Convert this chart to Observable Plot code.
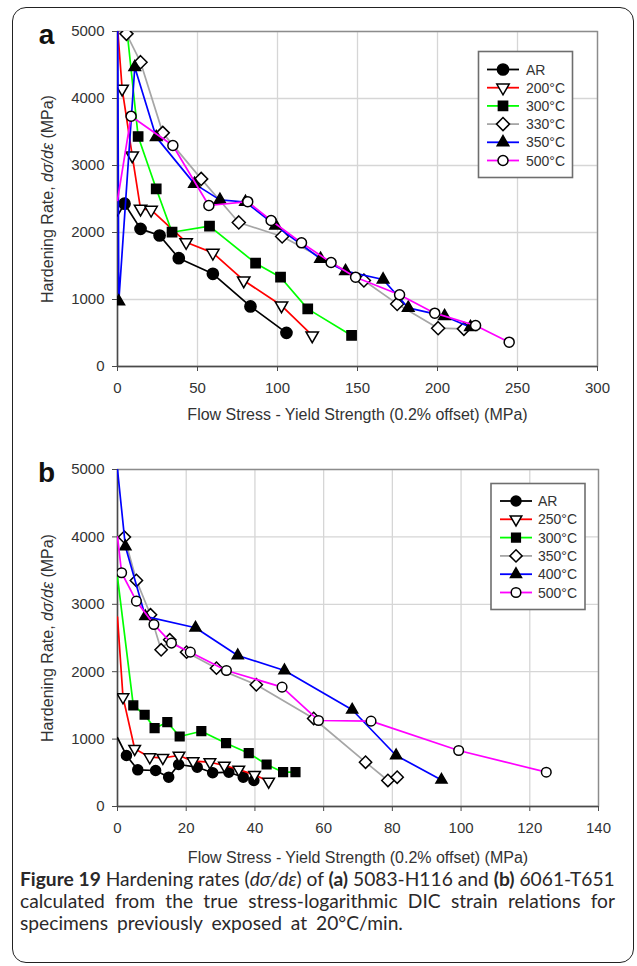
<!DOCTYPE html>
<html>
<head>
<meta charset="utf-8">
<script src="https://cdn.jsdelivr.net/npm/d3@7"></script>
<script src="https://cdn.jsdelivr.net/npm/@observablehq/plot@0.6"></script>
<style>
  html, body { margin: 0; padding: 0; background: #fff; }
  body { position: relative; width: 637px; height: 966px; overflow: hidden; font-family: "Liberation Sans", Arial, sans-serif; }
  .panel { position: absolute; left: 0; }
  #panelA { top: 0; }
  #panelB { top: 440px; }
  #overlay { position: absolute; left: 0; top: 0; pointer-events: none; }
  #box { position: absolute; left: 12px; top: 7px; width: 622px; height: 956px; border: 1.6px solid #222; border-radius: 14px; box-sizing: border-box; pointer-events: none; }
  #caption { position: absolute; left: 20px; top: 868px; width: 596px; font-family: Lato, "Noto Sans", sans-serif; font-size: 18px; line-height: 22px; color: #2b2829; }
  #caption div { white-space: nowrap; }
  #caption b { font-weight: bold; }
</style>
</head>
<body>
<div id="panelA" class="panel"></div>
<div id="panelB" class="panel"></div>
<svg id="overlay" width="637" height="966"></svg>
<div id="caption">
  <div id="cap1"><b>Figure 19</b> Hardening rates (<i>dσ/dε</i>) of <b>(a)</b> 5083-H116 and <b>(b)</b> 6061-T651</div>
  <div id="cap2">calculated from the true stress-logarithmic DIC strain relations for</div>
  <div id="cap3">specimens previously exposed at 20°C/min.</div>
</div>
<div id="box"></div>
<script>
// ---- Panel (a): 5083-H116, [flow stress - yield strength (MPa), hardening rate (MPa)]
const labelsA = ["AR", "200°C", "300°C", "330°C", "350°C", "500°C"];
const a_AR  = [[4.4,2430],[14.4,2054],[26.3,1955],[38.3,1617],[59.6,1383],[83.1,896],[105.6,502]];
const a_200 = [[2.9,4145],[9.2,3149],[14.4,2354],[21,2338],[42.9,1855],[59.6,1696],[78.9,1284],[102.5,910],[121.7,463]];
const a_300 = [[12.9,3433],[24.2,2652],[34.1,2004],[57.5,2094],[86.3,1542],[101.9,1333],[118.9,860],[146.3,463]];
const a_330 = [[5.6,4965],[14.4,4542],[28.3,3487],[52.3,2800],[75.8,2150],[102.9,1940],[154,1284],[174.8,934],[200.4,572],[216.5,562]];
const a_350 = [[0.8,970],[10.8,4467],[24.2,3423],[48.1,2726],[64,2487],[80,2455],[98.8,2104],[126.9,1607],[142.5,1423],[166,1298],[181.7,875],[204.4,751],[220.6,587]];
const a_500 = [[8.5,3736],[34.6,3298],[57.1,2403],[81.4,2460],[96,2179],[115,1846],[133.5,1552],[148.8,1333],[176.3,1070],[198.3,796],[223.8,612],[244.8,363]];
// hardening rate at zero offset where each curve begins (null: no leading segment)
const startsA = [2250, 5070, 6360, null, 6000, 2480];

// ---- Panel (b): 6061-T651
const labelsB = ["AR", "250°C", "300°C", "350°C", "400°C", "500°C"];
const b_AR  = [[2.6,757],[5.9,544],[11.1,534],[14.9,435],[17.8,623],[23.2,583],[27.7,500],[32.4,509],[36.6,435],[39.7,386]];
const b_250 = [[1.6,1622],[5.0,856],[9.4,732],[13.2,722],[17.9,757],[22.0,672],[26.9,657],[31.1,608],[35.3,549],[39.9,470],[44.0,371]];
const b_300 = [[4.6,1499],[7.9,1361],[10.8,1162],[14.5,1251],[18.1,1039],[24.4,1117],[31.6,939],[38.2,791],[43.4,623],[48.2,509],[51.8,509]];
const b_350 = [[2.0,3997],[5.5,3354],[9.6,2845],[12.7,2325],[15.2,2474],[20.1,2290],[28.8,2053],[40.4,1806],[57.1,1306],[72.2,657],[78.7,386],[81.4,435]];
const b_400 = [[2.3,3858],[8.1,2820],[22.7,2652],[35,2241],[48.6,2018],[68.3,1435],[81.1,757],[94.3,395]];
const b_500 = [[1.2,3468],[5.5,3047],[10.6,2701],[15.7,2424],[21.2,2290],[31.7,2018],[47.9,1771],[58.5,1276],[73.8,1266],[99.3,831],[124.8,509]];
const startsB = [1020, 2810, 3400, null, 5000, 4000];

// ---- Axes
const yTicks = [0, 1000, 2000, 3000, 4000, 5000];
const xTicksA = [0, 50, 100, 150, 200, 250, 300];
const xTicksB = [0, 20, 40, 60, 80, 100, 120, 140];
const xTitle = "Flow Stress - Yield Strength (0.2% offset) (MPa)";
const yTitle = "Hardening Rate, dσ/dε (MPa)";

// ---- Series styles (same order in both panels)
const triDown = {draw(ctx, size) {
  const a = Math.sqrt(size * 4 / Math.sqrt(3)), h = a * Math.sqrt(3) / 2;
  ctx.moveTo(-a / 2, -h / 3); ctx.lineTo(a / 2, -h / 3); ctx.lineTo(0, 2 * h / 3); ctx.closePath();
}};
const diamond = {draw(ctx, size) {
  const h = Math.sqrt(size / 2);
  ctx.moveTo(0, -h); ctx.lineTo(h, 0); ctx.lineTo(0, h); ctx.lineTo(-h, 0); ctx.closePath();
}};
const colors = ["#000000", "#ff0000", "#00ff00", "#a6a6a6", "#0000ff", "#ff00ff"];
const symbols = ["circle", triDown, "square", diamond, "triangle", "circle"];
const fills = ["#000", "#fff", "#000", "#fff", "#000", "#fff"];
const radiiA = [5.6, 4.6, 5.2, 5.2, 4.3, 5.0];
const radiiB = [5.0, 4.3, 4.9, 4.9, 4.1, 4.8];

function panel(o) {
  const marks = [
    Plot.gridX(o.xTicks, {stroke: "#d6d6d6", strokeOpacity: 1, strokeWidth: 1.3}),
    Plot.gridY(yTicks, {stroke: "#d6d6d6", strokeOpacity: 1, strokeWidth: 1.3}),
    Plot.frame({stroke: "#8c8c8c", strokeWidth: 1.4}),
    Plot.ruleX([0], {stroke: "#4a4a4a", strokeWidth: 1.4}),
    Plot.ruleY([0], {stroke: "#4a4a4a", strokeWidth: 1.4}),
    Plot.axisX(o.xTicks, {tickSize: 5, tickPadding: 11, fontSize: 15, stroke: "#4a4a4a", fill: "#333", label: null, tickFormat: d => String(d)}),
    Plot.axisY(yTicks, {tickSize: 5, tickPadding: 8, fontSize: 15, stroke: "#4a4a4a", fill: "#333", label: null, tickFormat: d => String(d)}),
    Plot.text([xTitle], {text: d => d, frameAnchor: "bottom", dy: o.titleDy, fontSize: 16, fill: "#333", textAnchor: "middle", lineAnchor: "middle"}),
    Plot.text([yTitle], {text: d => d, frameAnchor: "left", dx: -70, rotate: -90, fontSize: 16, fill: "#333", textAnchor: "middle", lineAnchor: "middle"}),
    Plot.text([o.letter], {text: d => d, frameAnchor: "top-left", dx: -71, dy: o.letterDy, fontSize: 28, fontWeight: "bold", fill: "#111", textAnchor: "middle", lineAnchor: "middle"})
  ];
  o.data.forEach((pts, i) => {
    const line = o.starts[i] == null ? pts : [[0, o.starts[i]], ...pts];
    marks.push(Plot.line(line, {x: d => d[0], y: d => d[1], stroke: colors[i], strokeWidth: 1.7, clip: true}));
    marks.push(Plot.dot(pts, {x: d => d[0], y: d => d[1], symbol: symbols[i], r: o.r[i], fill: fills[i], stroke: "#000", strokeWidth: 1.5, clip: true}));
  });
  const svg = Plot.plot({
    width: 637, height: 430,
    marginTop: o.mt, marginBottom: 64, marginLeft: 117, marginRight: o.mr,
    x: {domain: o.xDomain}, y: {domain: [0, 5000]},
    style: {background: "transparent", fontFamily: "'Liberation Sans', Arial, sans-serif", overflow: "visible"},
    marks
  });
  // italic d-sigma/d-epsilon in the y-axis title
  svg.querySelectorAll("text").forEach(t => {
    if (t.textContent === yTitle) {
      t.textContent = "";
      const parts = [["Hardening Rate, ", null], ["dσ/dε", "italic"], [" (MPa)", null]];
      for (const [s, st] of parts) {
        const ts = document.createElementNS("http://www.w3.org/2000/svg", "tspan");
        ts.textContent = s;
        if (st) ts.setAttribute("font-style", st);
        t.appendChild(ts);
      }
    }
  });
  return svg;
}

document.getElementById("panelA").appendChild(panel({
  letter: "a", xDomain: [0, 300], xTicks: xTicksA, mt: 31, mr: 40, titleDy: 48, letterDy: 4,
  data: [a_AR, a_200, a_300, a_330, a_350, a_500], starts: startsA, r: radiiA
}));
document.getElementById("panelB").appendChild(panel({
  letter: "b", xDomain: [0, 140], xTicks: xTicksB, mt: 29, mr: 39, titleDy: 51, letterDy: 4,
  data: [b_AR, b_250, b_300, b_350, b_400, b_500], starts: startsB, r: radiiB
}));

// ---- Legends
function legend(svg, labels, box, radii) {
  const g = svg.append("g");
  g.append("rect").attr("x", box.x).attr("y", box.y).attr("width", box.w).attr("height", box.h)
    .attr("fill", "#fff").attr("stroke", "#6e6e6e").attr("stroke-width", 1.6);
  labels.forEach((lab, i) => {
    const y = box.y0 + i * box.step;
    g.append("line").attr("x1", box.lx0).attr("x2", box.lx1).attr("y1", y).attr("y2", y)
      .attr("stroke", colors[i]).attr("stroke-width", 1.8);
    const sym = typeof symbols[i] === "string"
      ? {circle: d3.symbolCircle, square: d3.symbolSquare, triangle: d3.symbolTriangle}[symbols[i]]
      : symbols[i];
    g.append("path").attr("d", d3.symbol(sym, Math.PI * radii[i] * radii[i])())
      .attr("transform", `translate(${(box.lx0 + box.lx1) / 2},${y})`)
      .attr("fill", fills[i]).attr("stroke", "#000").attr("stroke-width", 1.5);
    g.append("text").attr("x", box.tx).attr("y", y).attr("dy", "0.36em")
      .attr("font-size", 14).attr("fill", "#333")
      .attr("font-family", "'Liberation Sans', Arial, sans-serif").text(lab);
  });
}
const overlay = d3.select("#overlay");
legend(overlay, labelsA, {x: 478.5, y: 51.5, w: 94, h: 126, y0: 69.5, step: 18.2, lx0: 487, lx1: 519, tx: 526}, radiiA);
legend(overlay, labelsB, {x: 491, y: 483.5, w: 94, h: 126, y0: 501, step: 18.3, lx0: 500, lx1: 532, tx: 538}, radiiB);

// ---- Caption: size the type so the first line fills the column, justify the second
const target = 595;
const cap = document.getElementById("caption");
const natural = el => { el.style.display = "inline-block"; const w = el.getBoundingClientRect().width; el.style.display = "block"; return w; };
const w1 = natural(document.getElementById("cap1"));
cap.style.fontSize = (18 * target / w1) + "px";
const cap2 = document.getElementById("cap2");
const w2 = natural(cap2);
const spaces2 = (cap2.textContent.match(/ /g) || []).length;
cap2.style.wordSpacing = ((target - w2) / spaces2) + "px";
const cap3 = document.getElementById("cap3");
cap3.style.wordSpacing = Math.min(4, (target - w2) / spaces2) + "px";
</script>
</body>
</html>
